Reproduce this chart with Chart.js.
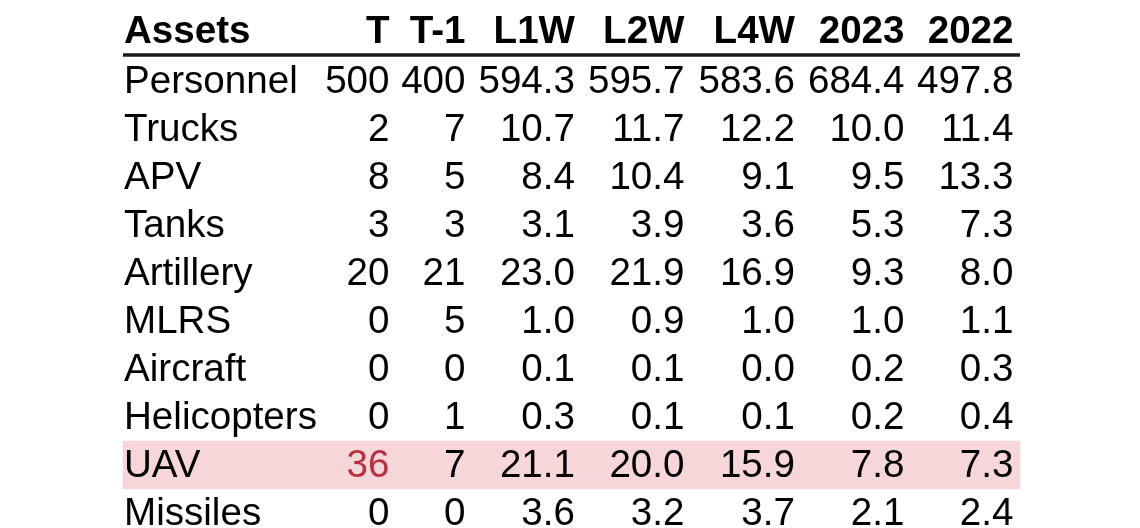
<!DOCTYPE html>
<html>
<head>
<meta charset="utf-8">
<script src="https://cdn.jsdelivr.net/npm/chart.js@4.4.1/dist/chart.umd.min.js"></script>
<style>
  html, body { margin: 0; padding: 0; background: #fff; }
  #wrap { position: relative; width: 1140px; height: 528px; }
</style>
</head>
<body>
<div id="wrap"><canvas id="table"></canvas></div>
<script>
// table data
const headerLabel = "Assets";
const columns = ["T", "T-1", "L1W", "L2W", "L4W", "2023", "2022"];
const assets = ["Personnel", "Trucks", "APV", "Tanks", "Artillery", "MLRS", "Aircraft", "Helicopters", "UAV", "Missiles"];

const valsT   = [500, 2, 8, 3, 20, 0, 0, 0, 36, 0];
const valsT1  = [400, 7, 5, 3, 21, 5, 0, 1, 7, 0];
const valsL1W = [594.3, 10.7, 8.4, 3.1, 23.0, 1.0, 0.1, 0.3, 21.1, 3.6];
const valsL2W = [595.7, 11.7, 10.4, 3.9, 21.9, 0.9, 0.1, 0.1, 20.0, 3.2];
const valsL4W = [583.6, 12.2, 9.1, 3.6, 16.9, 1.0, 0.0, 0.1, 15.9, 3.7];
const vals2023 = [684.4, 10.0, 9.5, 5.3, 9.3, 1.0, 0.2, 0.2, 7.8, 2.1];
const vals2022 = [497.8, 11.4, 13.3, 7.3, 8.0, 1.1, 0.3, 0.4, 7.3, 2.4];

const highlightRow = "UAV";
const redCell = { row: "UAV", col: "T" };

// layout (x in table units along a 0..1140 linear scale, y in row units)
const tableLeft = 123;
const tableRight = 1020;
const textLeft = 124;
const colRight = [389.5, 465.5, 575, 684.5, 795, 904.5, 1013.5];
const headerRowPos = -1.03;
const rulePos = -0.54;
const baselineShift = 11.5;
const fontFamily = '"Liberation Sans", Arial, sans-serif';
const fontSize = 38.6;

const columnValues = [valsT, valsT1, valsL1W, valsL2W, valsL4W, vals2023, vals2022];
const intCols = ["T", "T-1"];

function fmt(col, v) {
  return intCols.includes(col) ? String(Math.round(v)) : v.toFixed(1);
}

const cellText = {
  id: "cellText",
  afterDatasetsDraw(chart) {
    const ctx = chart.ctx;
    const xs = chart.scales.x;
    const ys = chart.scales.y;
    ctx.save();
    ctx.textBaseline = "alphabetic";

    // header
    ctx.font = "bold " + fontSize + "px " + fontFamily;
    ctx.fillStyle = "#000";
    const hy = ys.getPixelForValue(headerRowPos) + baselineShift;
    ctx.textAlign = "left";
    ctx.fillText(headerLabel, xs.getPixelForValue(textLeft), hy);
    ctx.textAlign = "right";
    columns.forEach((c, ci) => {
      ctx.fillText(c, xs.getPixelForValue(colRight[ci]), hy);
    });

    // body
    ctx.font = fontSize + "px " + fontFamily;
    assets.forEach((a, ri) => {
      const y = ys.getPixelForValue(ri) + baselineShift;
      ctx.fillStyle = "#000";
      ctx.textAlign = "left";
      ctx.fillText(a, xs.getPixelForValue(textLeft), y);
      ctx.textAlign = "right";
      columns.forEach((c, ci) => {
        const isRed = a === redCell.row && c === redCell.col;
        ctx.fillStyle = isRed ? "#b5313f" : "#000";
        ctx.fillText(fmt(c, columnValues[ci][ri]), xs.getPixelForValue(colRight[ci]), y);
      });
    });
    ctx.restore();
  }
};

const hlIndex = assets.indexOf(highlightRow);

new Chart(document.getElementById("table"), {
  type: "bar",
  data: {
    datasets: [
      {
        // pink band behind the highlighted row
        type: "bar",
        indexAxis: "y",
        data: [{ y: hlIndex, x: [tableLeft, tableRight] }],
        backgroundColor: "#f7d6da",
        borderWidth: 0,
        barThickness: 48
      },
      {
        // rule under the header
        type: "line",
        data: [{ x: tableLeft, y: rulePos }, { x: tableRight, y: rulePos }],
        borderColor: "#1c1c1c",
        borderWidth: 3.5,
        pointRadius: 0,
        fill: false
      }
    ]
  },
  options: {
    responsive: true,
    maintainAspectRatio: false,
    animation: false,
    layout: { padding: 0 },
    plugins: {
      legend: { display: false },
      tooltip: { enabled: false },
      title: { display: false }
    },
    scales: {
      x: { type: "linear", min: 0, max: 1140, offset: false, grace: 0, display: false },
      y: { type: "linear", reverse: true, min: -1.6875, max: 9.3125, offset: false, grace: 0, display: false }
    }
  },
  plugins: [cellText]
});
</script>
</body>
</html>
